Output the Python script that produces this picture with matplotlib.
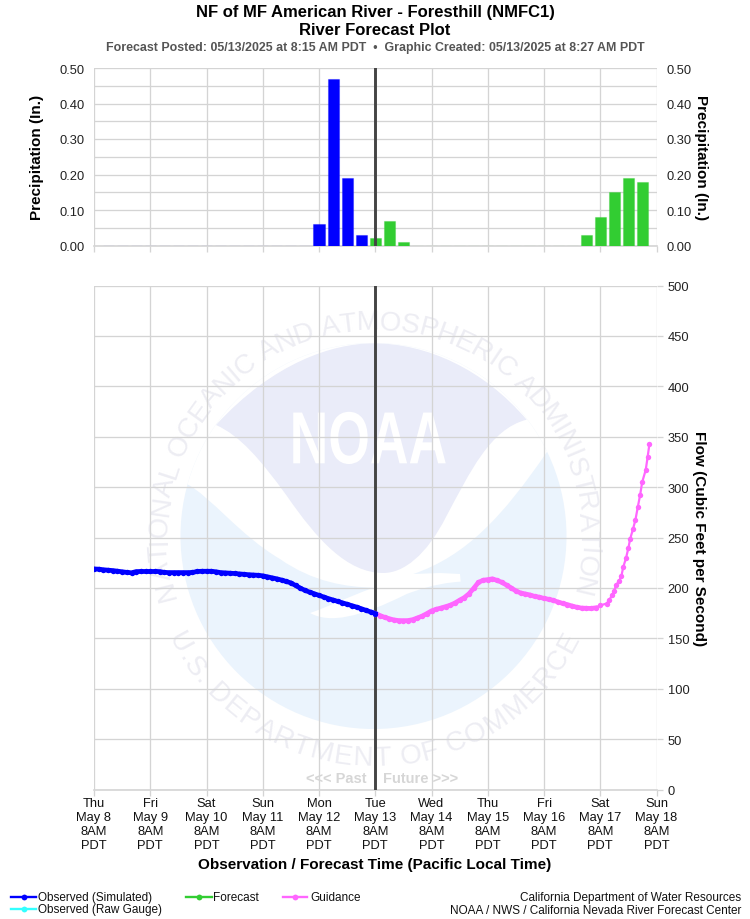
import numpy as np
import matplotlib
matplotlib.use("Agg")
import matplotlib.pyplot as plt
from matplotlib.patches import Circle, PathPatch
from matplotlib.path import Path
from matplotlib.lines import Line2D
from matplotlib.textpath import TextPath
from matplotlib.font_manager import FontProperties
from matplotlib.patheffects import AbstractPathEffect
from matplotlib.transforms import Affine2D

plt.rcParams["font.family"] = ["Liberation Sans", "DejaVu Sans"]

W, H = 750, 920

# x positions are hours since Thu May 8 8AM PDT
day_labels = ["Thu", "Fri", "Sat", "Sun", "Mon", "Tue", "Wed", "Thu", "Fri", "Sat", "Sun"]
date_labels = ["May 8", "May 9", "May 10", "May 11", "May 12", "May 13",
               "May 14", "May 15", "May 16", "May 17", "May 18"]
day_hours = [0, 24, 48, 72, 96, 120, 144, 168, 192, 216, 240]
now_hour = 120

precip_obs_hours = [6, 12, 18, 24, 30, 36, 42, 48, 54, 60, 66, 72, 78, 84, 90, 96, 102, 108, 114]
precip_obs = [0, 0, 0, 0, 0, 0, 0, 0, 0, 0, 0, 0, 0, 0, 0, 0.06, 0.47, 0.19, 0.03]
precip_fcst_hours = [120, 126, 132, 138, 144, 150, 156, 162, 168, 174, 180, 186, 192, 198, 204,
                     210, 216, 222, 228, 234]
precip_fcst = [0.02, 0.07, 0.01, 0, 0, 0, 0, 0, 0, 0, 0, 0, 0, 0, 0,
               0.03, 0.08, 0.15, 0.19, 0.18]

obs_hours = list(range(0, 122, 2))
obs_flow = [218.8, 218.6, 218, 217.6, 217.2, 216.6, 216, 215.4, 215, 216.2, 216.3, 216.3, 216.3,
            216.3, 216.2, 215.4, 215.2, 215.2, 215.2, 215.2, 215.2, 215.3, 216.3, 216.5, 216.5,
            216.5, 216, 215.2, 214.9, 214.6, 214.3, 213.9, 213.5, 213.1, 212.8, 212.5, 212, 211,
            210, 209, 207.8, 206.4, 205, 202.4, 199.8, 197.6, 195.8, 194.2, 192.6, 191, 189.4,
            188, 186.6, 185.2, 183.8, 182.4, 181, 179.4, 177.8, 176.2, 174.6]

guide_hours = list(range(120, 216, 2)) + [216, 218.7, 219.8, 221, 222, 222.8, 224, 225, 225.8, 227,
                                          228, 228.8, 230, 231, 232, 233, 233.9, 235.4, 236.2, 237]
guide_flow = [174.6, 172.6, 170.8, 169.4, 168.2, 167.6, 167.5, 167.6, 168.5, 170.2, 172, 174.5,
              177.2, 178.8, 180, 181.4, 182.8, 185, 187.8, 190.4, 194.2, 199.6, 205.4, 207.6,
              208.2, 209, 207.4, 205.6, 202.8, 200, 197, 195, 194, 193, 191.6, 190.8, 189.6,
              188.7, 187.6, 186, 184.6, 183.4, 182, 180.8, 180, 179.8, 179.6, 180.2,
              182.6, 184.5, 187.7, 192.7, 197.4, 203, 206.7, 211.6, 220.6, 229.6, 239.6, 249,
              258.5, 267.4, 280, 292, 305, 317, 329.6, 343]
n_dense = 48  # up to here the guidance points are close enough to read as a thick line

BLUE = "#0000ff"
GREEN = "#32cd32"
PINK = "#ff66ff"
CYAN = "#33ffff"
GRID = "#d4d4d4"
NOW = "#444444"


class VerticalStretch(AbstractPathEffect):
    # the logo lettering is squatter than any installed font
    def __init__(self, yc, factor):
        super().__init__()
        self.yc = yc
        self.factor = factor

    def draw_path(self, renderer, gc, tpath, affine, rgbFace=None):
        stretch = Affine2D().translate(0, -self.yc).scale(1, self.factor).translate(0, self.yc)
        renderer.draw_path(gc, tpath, affine + stretch, rgbFace)


def px_axes(fig, left, top, right, bottom, **kw):
    return fig.add_axes((left / W, 1 - bottom / H, (right - left) / W, (bottom - top) / H), **kw)


def arc_text(ax, text, cx, cy, radius, start, end, size, color, bottom=False):
    # places letters one by one along a circle, angles clockwise from straight up
    fp = FontProperties(family="Liberation Sans", size=size)
    base = TextPath((0, 0), "xx", prop=fp).get_extents().width
    widths = []
    for ch in text:
        if ch == " ":
            widths.append(size * 0.28)
        else:
            widths.append(TextPath((0, 0), "x" + ch + "x", prop=fp).get_extents().width - base)
    widths = np.array(widths)
    edges = np.concatenate(([0], np.cumsum(widths)))
    mids = (edges[:-1] + edges[1:]) / 2 / edges[-1]
    for ch, f in zip(text, mids):
        ang = np.radians(start + (end - start) * f)
        x = cx + radius * np.sin(ang)
        y = cy - radius * np.cos(ang)
        rot = -np.degrees(ang)
        if bottom:
            rot += 180
        ax.text(x, y, ch, fontproperties=fp, color=color, rotation=rot,
                rotation_mode="anchor", ha="center", va="center", zorder=5)


def draw_logo(ax):
    cx, cy, r = 373.5, 537, 193
    zx = lambda x: 140 + x / 3
    zy = lambda y: 300 + y / 3
    clip = Circle((cx, cy), r, transform=ax.transData)

    # lower light blue part, the full disc with the upper swoosh cut away below
    disc = Circle((cx, cy), r, facecolor="#ebf4fd", edgecolor="none", zorder=1)
    ax.add_patch(disc)

    # white band across the top half
    verts = [(zx(100), zy(540)), (zx(140), zy(555)),
             (zx(210), zy(590)), (zx(300), zy(710)), (zx(420), zy(780)),
             (zx(520), zy(850)), (zx(620), zy(864)), (zx(700), zy(866)),
             (zx(610), zy(900)), (zx(560), zy(925)), (zx(510), zy(942)),
             (zx(570), zy(975)), (zx(660), zy(955)), (zx(800), zy(885)),
             (zx(880), zy(855)), (zx(930), zy(850)), (zx(962), zy(848)),
             (zx(960), zy(825)), (zx(900), zy(822)), (zx(820), zy(825)),
             (zx(980), zy(770)), (zx(1090), zy(650)), (zx(1220), zy(460)),
             (zx(1300), zy(300)), (zx(1300), zy(100)), (zx(100), zy(100)), (zx(100), zy(540))]
    codes = [Path.MOVETO, Path.LINETO,
             Path.CURVE4, Path.CURVE4, Path.CURVE4,
             Path.CURVE4, Path.CURVE4, Path.CURVE4,
             Path.CURVE4, Path.CURVE4, Path.CURVE4,
             Path.CURVE4, Path.CURVE4, Path.CURVE4,
             Path.CURVE4, Path.CURVE4, Path.CURVE4,
             Path.LINETO, Path.LINETO, Path.LINETO,
             Path.CURVE4, Path.CURVE4, Path.CURVE4,
             Path.LINETO, Path.LINETO, Path.LINETO, Path.CLOSEPOLY]
    band = PathPatch(Path(verts, codes), facecolor="white", edgecolor="none", zorder=2)
    ax.add_patch(band)
    band.set_clip_path(clip)

    # upper lavender part
    verts = [(zx(228), zy(378)),
             (zx(400), zy(190)), (zx(580), zy(133)), (zx(700), zy(133)),
             (zx(860), zy(133)), (zx(1030), zy(210)), (zx(1160), zy(362)),
             (zx(1050), zy(390)), (zx(990), zy(520)), (zx(920), zy(650)),
             (zx(860), zy(770)), (zx(790), zy(822)), (zx(730), zy(822)),
             (zx(620), zy(822)), (zx(530), zy(720)), (zx(440), zy(590)),
             (zx(360), zy(480)), (zx(300), zy(410)), (zx(228), zy(378)),
             (zx(228), zy(378))]
    codes = [Path.MOVETO] + [Path.CURVE4] * 18 + [Path.CLOSEPOLY]
    ax.add_patch(PathPatch(Path(verts, codes), facecolor="#eaecf9", edgecolor="none", zorder=3))

    ax.text(368.5, 445, "NOAA", color="white", fontsize=38.5, fontweight="bold",
            ha="center", va="center", zorder=4,
            path_effects=[VerticalStretch(H - 445, 1.38)])

    letters = "#ededf3"
    arc_text(ax, "NATIONAL OCEANIC AND ATMOSPHERIC ADMINISTRATION", cx, cy, 214, -107, 106, 20, letters)
    arc_text(ax, "U.S. DEPARTMENT OF COMMERCE", cx, cy, 222, -116, -244, 20, letters, bottom=True)


def style_axes(ax):
    ax.set_facecolor("none")
    ax.set_xlim(0, 240)
    ax.set_xticks(day_hours)
    ax.set_xticklabels([])
    ax.grid(True, which="major", color=GRID, linewidth=0.95)
    ax.set_axisbelow(True)
    for side in ["top", "left", "right"]:
        ax.spines[side].set_visible(False)
    ax.spines["bottom"].set_color(GRID)
    ax.spines["bottom"].set_linewidth(1.2)
    ax.tick_params(axis="x", color=GRID, length=4, width=0.95)


fig = plt.figure(figsize=(W / 100, H / 100), dpi=100, facecolor="white")

# logo and free text sit on a full figure axes in pixel coordinates
bg = fig.add_axes((0, 0, 1, 1), zorder=0)
bg.set_xlim(0, W)
bg.set_ylim(H, 0)
bg.axis("off")
draw_logo(bg)

# precipitation panel
ax1 = px_axes(fig, 94, 69, 656.5, 246.5, zorder=1)
style_axes(ax1)
ax1.set_ylim(0, 0.5)
ticks1 = [0, 0.05, 0.10, 0.15, 0.20, 0.25, 0.30, 0.35, 0.40, 0.45, 0.50]
ax1.set_yticks(ticks1)
ax1.set_yticklabels([f"{t:.2f}" if i % 2 == 0 else "" for i, t in enumerate(ticks1)], fontsize=9.3, color="#222222")
ax1.tick_params(axis="y", length=0, pad=7, labelleft=True, labelright=True)
bar_w = 4.7
ax1.bar(precip_obs_hours, precip_obs, width=bar_w, color=BLUE, edgecolor=(0, 0, 1, 0.35), linewidth=0.8, zorder=3)
ax1.bar(precip_fcst_hours, precip_fcst, width=bar_w, color=GREEN, edgecolor=(0.2, 0.8, 0.2, 0.35), linewidth=0.8, zorder=3)
ax1.axvline(now_hour, color=NOW, linewidth=2.1, zorder=4)
ax1.set_ylabel("Precipitation (In.)", fontsize=11, fontweight="bold", labelpad=11)
bg.text(701, 158, "Precipitation (In.)", fontsize=11, fontweight="bold", rotation=270,
        ha="center", va="center")

# flow panel
ax2 = px_axes(fig, 94, 286.5, 656.5, 790.5, zorder=1)
style_axes(ax2)
ax2.set_ylim(0, 500)
ax2.set_yticks(range(0, 550, 50))
ax2.yaxis.tick_right()
ax2.tick_params(axis="y", color=GRID, length=4, width=0.95, labelsize=9.3, labelcolor="#222222", pad=4)
ax2.axvline(now_hour, color=NOW, linewidth=2.1, zorder=4)
ax2.plot(guide_hours[:n_dense], guide_flow[:n_dense], color=PINK, linewidth=3.4, zorder=5)
ax2.plot(guide_hours, guide_flow, color=PINK, linewidth=1.6, marker="o", markersize=3.9,
         markeredgewidth=0, zorder=5)
ax2.plot(obs_hours, obs_flow, color=BLUE, linewidth=3.4, marker="o", markersize=3.9,
         markeredgewidth=0, zorder=6)
bg.text(699, 539, "Flow (Cubic Feet per Second)", fontsize=11, fontweight="bold", rotation=270,
        ha="center", va="center")

bg.text(367, 779, "<<< Past", fontsize=10.5, fontweight="bold", color="#d6d6d6", ha="right", va="center")
bg.text(383, 779, "Future >>>", fontsize=10.5, fontweight="bold", color="#d6d6d6", ha="left", va="center")

# day labels under the flow panel
for h, day, date in zip(day_hours, day_labels, date_labels):
    x = 94 + h * (656.5 - 94) / 240
    for y, line in zip([804.5, 818.5, 832.5, 846.5], [day, date, "8AM", "PDT"]):
        bg.text(x, y, line, fontsize=9.3, color="#111111", ha="center", va="center")

bg.text(375, 865.5, "Observation / Forecast Time (Pacific Local Time)", fontsize=10.95,
        fontweight="bold", ha="center", va="center")

# titles
bg.text(375, 12.5, "NF of MF American River - Foresthill (NMFC1)", fontsize=12,
        fontweight="bold", ha="center", va="center")
bg.text(375, 30.5, "River Forecast Plot", fontsize=12, fontweight="bold", ha="center", va="center")
bg.text(375, 47.5, "Forecast Posted: 05/13/2025 at 8:15 AM PDT  \u2022  Graphic Created: 05/13/2025 at 8:27 AM PDT",
        fontsize=8.95, fontweight="bold", color="#555555", ha="center", va="center")

# legend
legend_rows = [
    (11, 36, 898, BLUE, 38, "Observed (Simulated)"),
    (11, 36, 910, CYAN, 38, "Observed (Raw Gauge)"),
    (186, 212, 898, GREEN, 213, "Forecast"),
    (283, 307, 898, PINK, 310, "Guidance"),
]
for x0, x1, y, color, tx, label in legend_rows:
    bg.add_line(Line2D([x0, (x0 + x1) / 2, x1], [y, y, y], color=color, linewidth=1.7,
                       marker="o", markevery=[1], markersize=4.2, markeredgewidth=0))
    bg.text(tx, y, label, fontsize=8.5, color="#111111", ha="left", va="center")

bg.text(741, 898, "California Department of Water Resources", fontsize=8.5, color="#111111",
        ha="right", va="center")
bg.text(741, 911, "NOAA / NWS / California Nevada River Forecast Center", fontsize=8.5,
        color="#111111", ha="right", va="center")

fig.savefig("out.png", dpi=100)
